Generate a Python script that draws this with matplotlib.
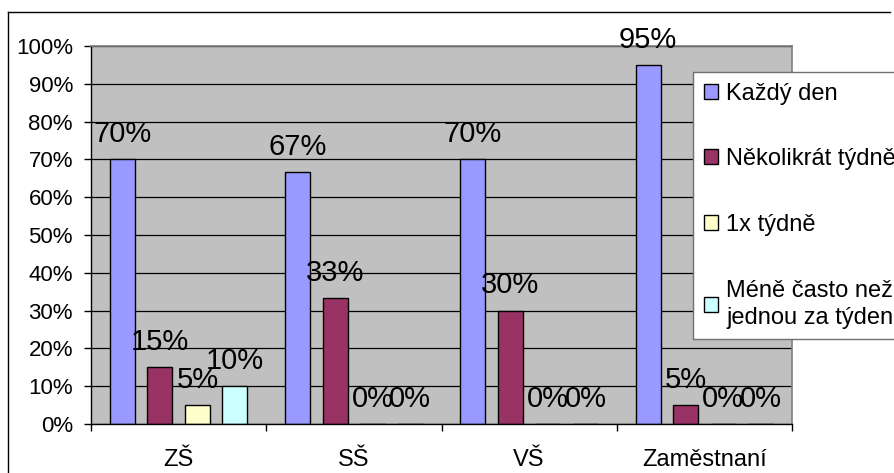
import numpy as np
import matplotlib
matplotlib.use("Agg")
import matplotlib.pyplot as plt
from matplotlib.lines import Line2D

plt.rcParams['font.family'] = ['Liberation Sans', 'DejaVu Sans']

# data
categories = ['ZŠ', 'SŠ', 'VŠ', 'Zaměstnaní']
series_names = ['Každý den', 'Několikrát týdně', '1x týdně',
                'Méně často než\njednou za týden']
kazdy_den = [70, 66.7, 70, 95]
nekolikrat = [15, 33.3, 30, 5]
jednou = [5, 0, 0, 0]
mene_casto = [10, 0, 0, 0]
series_values = [kazdy_den, nekolikrat, jednou, mene_casto]
colors = ['#9999FF', '#993366', '#FFFFCC', '#CCFFFF']

W, H = 894, 473
fig = plt.figure(figsize=(W / 100, H / 100), dpi=100)
ax = fig.add_axes([91 / W, 1 - 424 / H, 701 / W, 378 / H])
ax.set_facecolor('#C0C0C0')

x = np.arange(len(categories))
step = 0.214
width = 0.143
for i, (vals, col, name) in enumerate(zip(series_values, colors, series_names)):
    ax.bar(x + (i - 1.5) * step, vals, width, color=col,
           edgecolor='black', linewidth=1, label=name, zorder=3)
    for xi, v in zip(x, vals):
        ax.annotate(f'{v:.0f}%', (xi + (i - 1.5) * step, v),
                    xytext=(0, 12.5), textcoords='offset points',
                    ha='center', va='baseline', fontsize=21, zorder=5)

ax.set_xlim(-0.5, 3.5)
ax.set_ylim(0, 100)

# y axis
ax.set_yticks(np.arange(0, 101, 10))
ax.set_yticklabels([f'{t}%' for t in range(0, 101, 10)])
ax.tick_params(axis='y', direction='out', length=5, width=1, pad=8,
               labelsize=16, color='black')
ax.yaxis.grid(True, color='black', linewidth=0.9, zorder=1)
ax.set_axisbelow(True)

# x axis: ticks between groups, labels centred under groups
ax.set_xticks([-0.5, 0.5, 1.5, 2.5, 3.5])
ax.set_xticklabels([])
ax.set_xticks(x, minor=True)
ax.set_xticklabels(categories, minor=True)
ax.tick_params(axis='x', which='major', direction='out', length=5, width=1,
               color='black')
ax.tick_params(axis='x', which='minor', length=0, pad=18, labelsize=17)

for s in ['left', 'bottom']:
    ax.spines[s].set_color('black')
    ax.spines[s].set_linewidth(1)
    ax.spines[s].set_zorder(4)
for s in ['top', 'right']:
    ax.spines[s].set_color('#808080')
    ax.spines[s].set_linewidth(1.2)
    ax.spines[s].set_zorder(4)

# legend
leg = ax.legend(loc='upper left', bbox_to_anchor=(693 / W, 1 - 72 / H),
                bbox_transform=fig.transFigure, borderaxespad=0,
                fontsize=17, frameon=True, fancybox=False, framealpha=1,
                edgecolor='#707070', handlelength=0.6, handleheight=0.6,
                handletextpad=0.35, labelspacing=1.85, borderpad=0.45)
leg.get_frame().set_linewidth(1)
for t in leg.get_texts():
    t.set_linespacing(1.3)
leg.set_zorder(10)

# chart border
fig.add_artist(Line2D([8 / W, 8 / W], [-0.01, 1 - 12 / H], color='black',
                      linewidth=1, transform=fig.transFigure))
fig.add_artist(Line2D([8 / W, 890 / W], [1 - 12 / H, 1 - 12 / H],
                      color='black', linewidth=1, transform=fig.transFigure))

fig.savefig('out.png', dpi=100)
